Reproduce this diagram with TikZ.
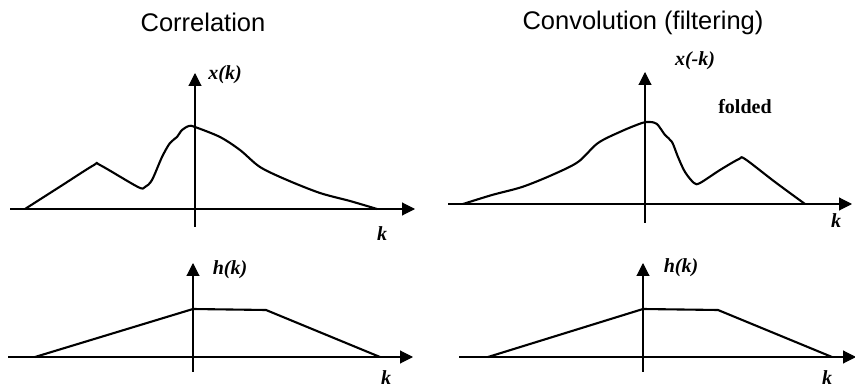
\documentclass[tikz,border=0pt]{standalone}
\usepackage{fontspec}
\setmainfont{Liberation Sans}
\newfontfamily\lblfont{Liberation Serif}
\usepackage{tikz}
\usetikzlibrary{arrows.meta}

\begin{document}
\begin{tikzpicture}[x=1pt, y=-1pt,
  axis/.style={line width=1.1pt, -{Triangle[length=13pt,width=13pt]}},
  curve/.style={line width=2.1pt, line join=round},
  ttl/.style={font=\fontsize{25.5}{30}\selectfont, anchor=base, inner sep=0pt},
  lbl/.style={font=\lblfont\bfseries\itshape\fontsize{20}{23}\selectfont, inner sep=0pt}]
\useasboundingbox (0,0) rectangle (855,390);
% titles
\node[ttl] (corr) at (203,32) {Correlation};
\node[ttl] (conv) at (643,30) {Convolution (filtering)};
% axes: x left/right, y bottom/top, origin
\foreach \ox/\oy/\xl/\xr/\yb/\yt in {195/209/10/415/227/73, 645/204/448/852/223/72,
                                     193/357/8/413/372/263, 643/357/459/856/372/263}{
  \draw[axis] (\xl,\oy) -- (\xr,\oy);
  \draw[axis] (\ox,\yb) -- (\ox,\yt);
}
% x(k)
\draw[curve] plot[smooth, tension=0.5] coordinates {(25,209) (61,186) (94,165) (100,165)
  (138,187) (145,187) (152,180) (162,157) (170,143) (177,137) (182,130) (189,126)
  (195,127) (220,137) (240,150) (260,167) (287,180) (320,193) (350,201) (377,209)};
% x(-k), folded
\draw[curve] plot[smooth, tension=0.5] coordinates {(463,204) (492,195) (522,187)
  (552,175) (578,162) (598,143) (622,131) (642,123) (650,122) (657,124) (665,135)
  (672,142) (678,157) (685,172) (694,183) (700,183) (720,170) (739,159) (745,159)
  (775,182) (805,204)};
% h(k)
\draw[curve] (35,357) -- (193,309) -- (266,310) -- (380,357);
\draw[curve] (488,357) -- (643,309) -- (718,310) -- (832,357);
% labels
\node[lbl] (xk) at (225,75) {x(k)};
\node[lbl] (xmk) at (695,61) {x(-k)};
\node[lbl] (fold) at (745,107) {\upshape folded};
\node[lbl] (hkl) at (230,270) {h(k)};
\node[lbl] (hkr) at (681,268) {h(k)};
\node[lbl] (kTL) at (382,234) {k};
\node[lbl] (kTR) at (836,221) {k};
\node[lbl] (kBL) at (386,378) {k};
\node[lbl] (kBR) at (827,378) {k};
\end{tikzpicture}
\end{document}
